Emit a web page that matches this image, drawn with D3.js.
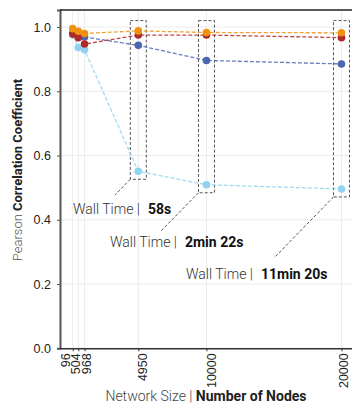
<!DOCTYPE html>
<html>
<head>
<meta charset="utf-8">
<script src="https://cdn.jsdelivr.net/npm/d3@7"></script>
<style>
  body { margin: 0; background: #fff; }
  svg { font-family: Roboto, "Noto Sans", sans-serif; }
</style>
</head>
<body>
<div id="chart"></div>
<script>
const nodes = [96, 504, 968, 4950, 10000, 20000];
const yTicks = [0.0, 0.2, 0.4, 0.6, 0.8, 1.0];

const seriesColors = ["#4a66b0", "#8fd3f0", "#b02a2a", "#f0920e"];
const blueVals = [0.980, 0.973, 0.969, 0.943, 0.896, 0.885];
const lightBlueVals = [0.975, 0.936, 0.929, 0.551, 0.509, 0.496];
const redVals = [0.978, 0.967, 0.947, 0.975, 0.975, 0.967];
const orangeVals = [0.995, 0.987, 0.980, 0.988, 0.983, 0.982];

const wallNodes = [4950, 10000, 20000];
const wallTimes = ["58s", "2min 22s", "11min 20s"];

const W = 352, H = 408;
const margin = {top: 10, right: 0, bottom: 60, left: 60};

/* x is linear in node count, a bit of padding on both sides */
const x = d3.scaleLinear()
  .domain([-850, 20780])
  .range([margin.left, W - margin.right]);

const y = d3.scaleLinear()
  .domain([0, 1.053])
  .range([H - margin.bottom + 0.3, margin.top]);

const svg = d3.select("#chart").append("svg")
  .attr("width", W)
  .attr("height", H);

/* grid */
svg.append("g").selectAll("line").data(nodes).join("line")
  .attr("x1", d => x(d)).attr("x2", d => x(d))
  .attr("y1", margin.top).attr("y2", y(0))
  .attr("stroke", "#ececec").attr("stroke-width", 1);

svg.append("g").selectAll("line").data(yTicks).join("line")
  .attr("x1", margin.left).attr("x2", W)
  .attr("y1", d => y(d)).attr("y2", d => y(d))
  .attr("stroke", "#ececec").attr("stroke-width", 1);

/* axes */
const yAxis = svg.append("g")
  .attr("transform", `translate(${margin.left},0)`)
  .call(d3.axisLeft(y).tickValues(yTicks).tickFormat(d3.format(".1f")).tickSize(3).tickPadding(6));
yAxis.select(".domain").attr("stroke", "#555").attr("stroke-width", 2);
yAxis.selectAll(".tick line").attr("stroke", "#555");
yAxis.selectAll("text").attr("font-size", 12.5).attr("fill", "#222");

/* the three small networks sit close together, so their labels are pushed apart */
const labelShift = [-8, -3, 2, 4, 5, 2];

const xAxis = svg.append("g")
  .attr("transform", `translate(0,${y(0)})`)
  .call(d3.axisBottom(x).tickValues(nodes).tickFormat(d => d).tickSize(3).tickSizeOuter(0));
xAxis.select(".domain").attr("stroke", "#333").attr("stroke-width", 1.5);
xAxis.selectAll(".tick line").attr("stroke", "#333");
xAxis.selectAll("text")
  .attr("font-size", 12.5).attr("fill", "#222")
  .attr("transform", (d, i) => `translate(${labelShift[i]},0) rotate(-90)`)
  .attr("text-anchor", "end")
  .attr("x", -5).attr("y", 0).attr("dy", "0.35em");

/* top frame line */
svg.append("line")
  .attr("x1", margin.left).attr("x2", W)
  .attr("y1", margin.top).attr("y2", margin.top)
  .attr("stroke", "#222").attr("stroke-width", 1.5);

/* wall-time boxes and call-outs */
const boxes = wallNodes.map((n, i) => {
  const idx = nodes.indexOf(n);
  const lo = Math.min(blueVals[idx], lightBlueVals[idx], redVals[idx], orangeVals[idx]);
  return {n, lo, label: wallTimes[i]};
});

svg.append("g").selectAll("rect").data(boxes).join("rect")
  .attr("x", d => x(d.n) - 8)
  .attr("y", y(1.02))
  .attr("width", 16)
  .attr("height", d => y(d.lo) + 8 - y(1.02))
  .attr("fill", "none")
  .attr("stroke", "#555")
  .attr("stroke-width", 1)
  .attr("stroke-dasharray", "3,2");

const leaderEnd = [[115, 195], [160, 232], [274, 258]];
const labelPos = [[73, 214], [110, 247], [186, 279]];

svg.append("g").selectAll("line").data(boxes).join("line")
  .attr("x1", d => x(d.n) - 8)
  .attr("y1", d => y(d.lo) + 8)
  .attr("x2", (d, i) => leaderEnd[i][0])
  .attr("y2", (d, i) => leaderEnd[i][1])
  .attr("stroke", "#555")
  .attr("stroke-width", 1)
  .attr("stroke-dasharray", "3,2");

const labels = svg.append("g").selectAll("text").data(boxes).join("text")
  .attr("x", (d, i) => labelPos[i][0])
  .attr("y", (d, i) => labelPos[i][1])
  .attr("font-size", 14)
  .attr("fill", "#333");
labels.append("tspan").attr("font-weight", 300).text("Wall Time |");
labels.append("tspan").attr("font-weight", 700).attr("fill", "#111").attr("dx", 8).text(d => d.label);

/* series */
const series = [blueVals, lightBlueVals, redVals, orangeVals];
const line = d3.line().x((d, i) => x(nodes[i])).y(d => y(d));

series.forEach((vals, s) => {
  svg.append("path")
    .datum(vals)
    .attr("d", line)
    .attr("fill", "none")
    .attr("stroke", seriesColors[s])
    .attr("stroke-width", 1.3)
    .attr("stroke-opacity", 0.85)
    .attr("stroke-dasharray", "4,2");
});

series.forEach((vals, s) => {
  svg.append("g").selectAll("circle").data(vals).join("circle")
    .attr("cx", (d, i) => x(nodes[i]))
    .attr("cy", d => y(d))
    .attr("r", 3.8)
    .attr("fill", seriesColors[s]);
});

/* axis titles */
const yTitle = svg.append("text")
  .attr("transform", "translate(22,170) rotate(-90)")
  .attr("text-anchor", "middle")
  .attr("font-size", 13)
  .attr("fill", "#222");
yTitle.append("tspan").attr("font-weight", 300).attr("fill", "#555").text("Pearson ");
yTitle.append("tspan").attr("font-weight", 700).text("Correlation Coefficient");

const xTitle = svg.append("text")
  .attr("x", 206).attr("y", 401)
  .attr("text-anchor", "middle")
  .attr("font-size", 14)
  .attr("fill", "#222");
xTitle.append("tspan").attr("font-weight", 300).attr("fill", "#444").text("Network Size | ");
xTitle.append("tspan").attr("font-weight", 700).text("Number of Nodes");
</script>
</body>
</html>
